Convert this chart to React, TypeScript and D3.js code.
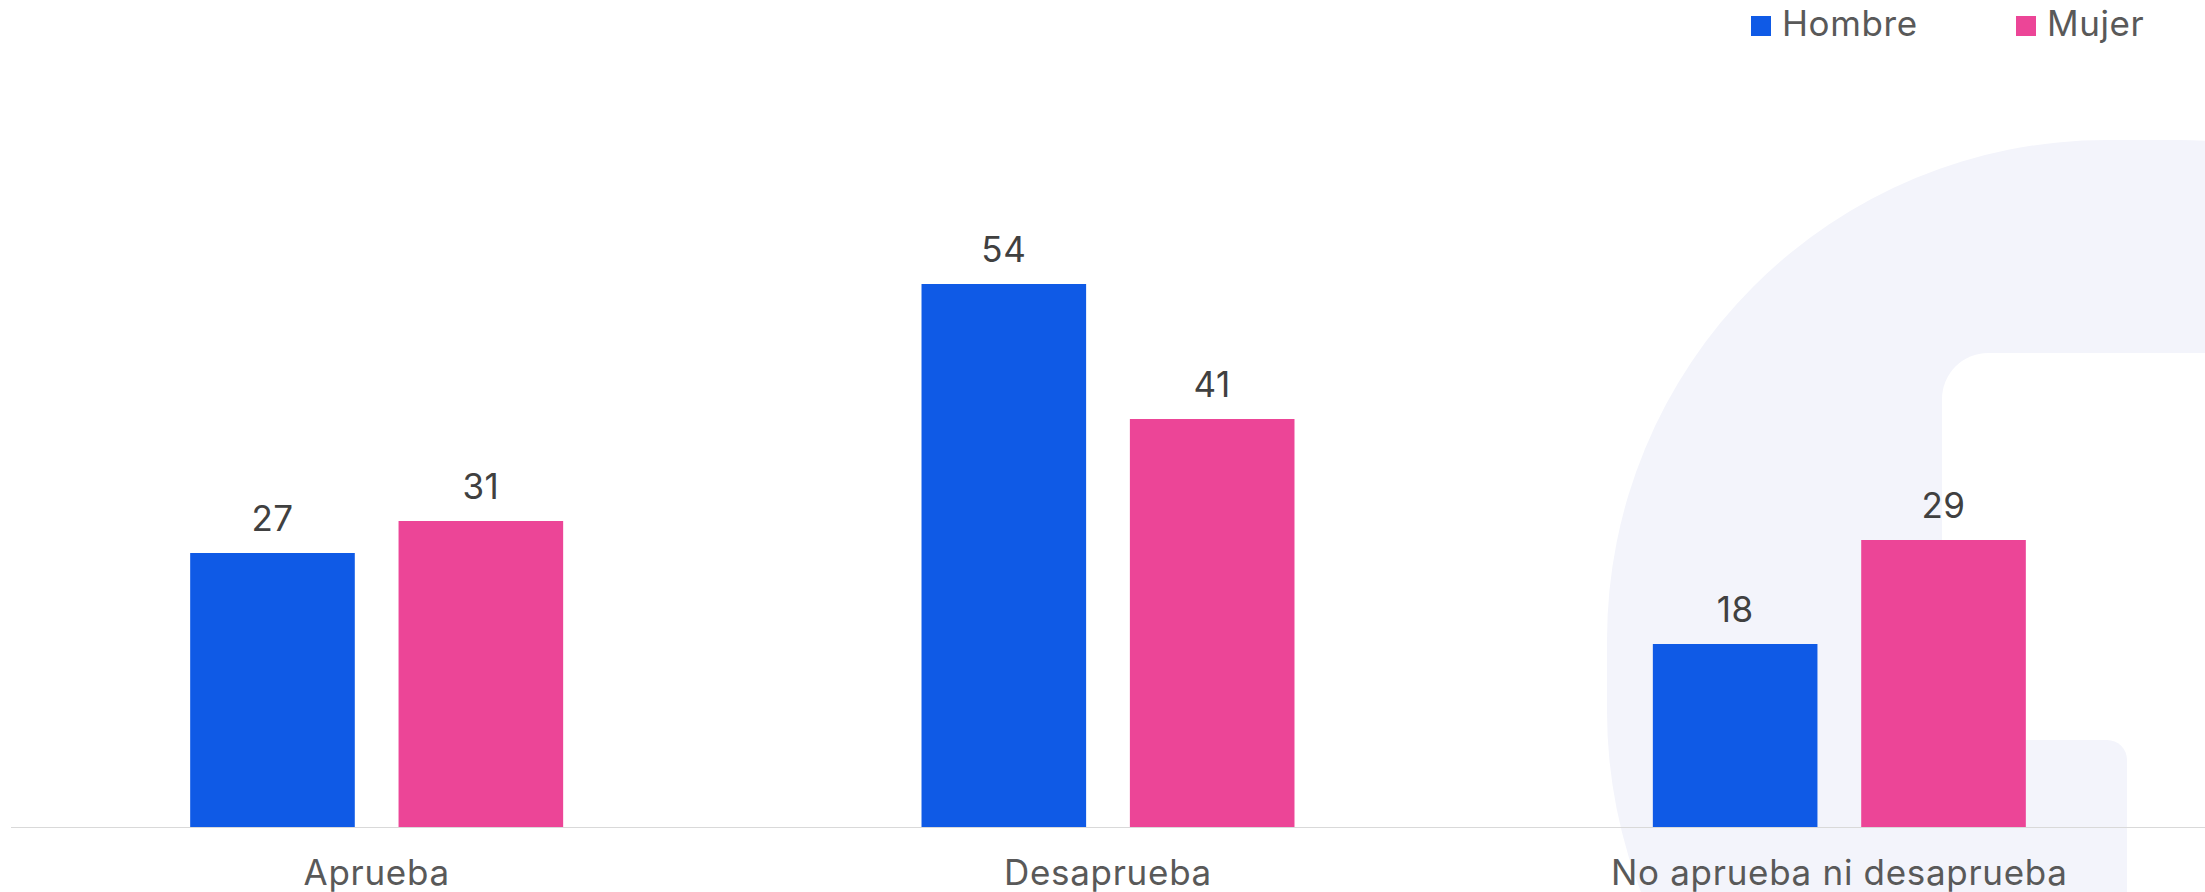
import React from "react";
import * as d3 from "d3";

const categories = ["Aprueba", "Desaprueba", "No aprueba ni desaprueba"];
const seriesNames = ["Hombre", "Mujer"];
const hombre = [27.4, 54.3, 18.3];
const mujer = [30.6, 40.8, 28.7];
const seriesColors = ["#0f5ae6", "#ec4597"];

const W = 2205;
const H = 892;
const FONT = "Inter, 'Noto Sans', sans-serif";

export default function App() {
  const baseY = 827;
  const x0 = d3
    .scaleBand<string>()
    .domain(categories)
    .range([11, W])
    .paddingInner(0.49)
    .paddingOuter(0.245);
  const x1 = d3
    .scaleBand<string>()
    .domain(seriesNames)
    .range([0, x0.bandwidth()])
    .paddingInner(0.21);
  const y = d3.scaleLinear().domain([0, 60]).range([baseY, baseY - 600]);
  const fmt = d3.format(".0f");
  const values = [hombre, mujer];

  const pale = "#f3f4fb";

  return (
    <svg
      width={W}
      height={H}
      style={{ position: "absolute", left: 0, top: 0, display: "block" }}
      fontFamily={FONT}
    >
      <rect x={0} y={0} width={W} height={H} fill="#ffffff" />
      {/* watermark logo */}
      <g>
        <rect x={1607} y={140} width={1071} height={1071} rx={500} ry={500} fill={pale} />
        <rect x={1942} y={353} width={600} height={700} rx={46} ry={46} fill="#ffffff" />
        <rect x={1900} y={740} width={227} height={300} rx={20} ry={20} fill={pale} />
      </g>

      {/* axis line */}
      <line x1={11} x2={W} y1={baseY + 0.5} y2={baseY + 0.5} stroke="#d9d9d9" strokeWidth={1.2} />

      {/* bars */}
      {categories.map((c, ci) => (
        <g key={c} transform={`translate(${x0(c)},0)`}>
          {seriesNames.map((s, si) => {
            const v = values[si][ci];
            const bx = x1(s) as number;
            return (
              <g key={s}>
                <rect
                  x={bx}
                  y={y(v)}
                  width={x1.bandwidth()}
                  height={baseY - y(v)}
                  fill={seriesColors[si]}
                />
                <text
                  x={bx + x1.bandwidth() / 2}
                  y={y(v) - 22}
                  textAnchor="middle"
                  fontSize={35}
                  fill="#404040"
                  letterSpacing={0.5}
                >
                  {fmt(v)}
                </text>
              </g>
            );
          })}
          <text
            x={x0.bandwidth() / 2}
            y={885}
            textAnchor="middle"
            fontSize={35}
            fill="#595959"
            letterSpacing={0.7}
          >
            {c}
          </text>
        </g>
      ))}

      {/* legend */}
      {seriesNames.map((s, i) => {
        const lx = [1751, 2016][i];
        return (
          <g key={s}>
            <rect x={lx} y={16} width={20} height={20} fill={seriesColors[i]} />
            <text x={lx + 31} y={36} fontSize={35} fill="#595959" letterSpacing={0.6}>
              {s}
            </text>
          </g>
        );
      })}
    </svg>
  );
}
